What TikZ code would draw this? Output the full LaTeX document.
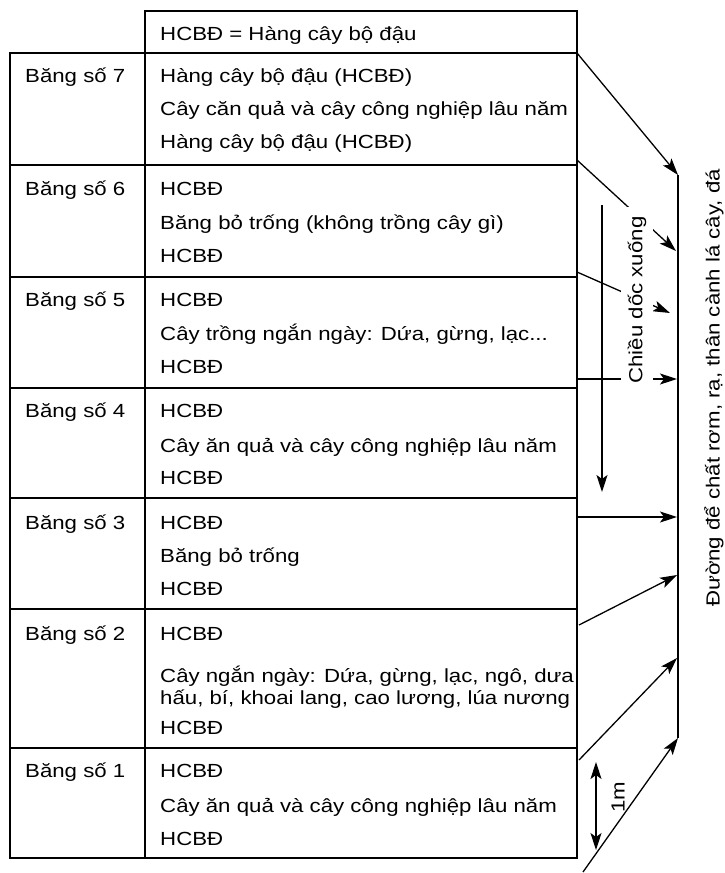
\documentclass[tikz,border=0pt]{standalone}
\usepackage{fontspec}
\setmainfont{Liberation Sans}[FakeStretch=1.17]
\usetikzlibrary{arrows.meta, positioning}

\begin{document}
\begin{tikzpicture}[x=1pt, y=-1pt,
        grid/.style={line width=1.3pt},
        cell/.style={anchor=base west, inner sep=0pt, font=\fontsize{19}{22}\selectfont},
        flow/.style={line width=1.3pt, -{Stealth[length=17pt, width=11pt, inset=4pt]}},
        sidelbl/.style={rotate=90, font=\fontsize{19}{22}\selectfont}]
        \useasboundingbox (0,0) rectangle (724,873);

        % Table frame
        \draw[grid] (145,11) rectangle (577,53);
        \draw[grid] (10,53) rectangle (577,858);
        \draw[grid] (145,53) -- (145,858);
        \foreach \y in {165,277,388,498,609,748}
            \draw[grid] (10,\y) -- (577,\y);

        % Key
        \node[cell] (key) at (160,40) {HCBĐ = Hàng cây bộ đậu};

        % Band labels
        \foreach \n/\y in {7/82,6/195,5/306,4/417,3/529,2/640,1/777}
            \node[cell] (band\n) at (25,\y) {Băng số \n};

        % Hedge rows of each band
        \node[cell] (top7) at (160,82) {Hàng cây bộ đậu (HCBĐ)};
        \node[cell] (bot7) at (160,148) {Hàng cây bộ đậu (HCBĐ)};
        \foreach \n/\ya/\yb in {6/195/262,5/306/373,4/417/484,3/529/595,2/640/734,1/777/845} {
            \node[cell] (top\n) at (160,\ya) {HCBĐ};
            \node[cell] (bot\n) at (160,\yb) {HCBĐ};
        }

        % Crops of each band
        \node[cell] (mid7) at (160,115) {Cây căn quả và cây công nghiệp lâu năm};
        \node[cell] (mid6) at (160,229) {Băng bỏ trống (không trồng cây gì)};
        \node[cell] (mid5) at (160,340) {Cây trồng ngắn ngày: Dứa, gừng, lạc...};
        \node[cell] (mid4) at (160,452) {Cây ăn quả và cây công nghiệp lâu năm};
        \node[cell] (mid3) at (160,562) {Băng bỏ trống};
        \node[cell] (mid2) at (160,682) {Cây ngắn ngày: Dứa, gừng, lạc, ngô, dưa};
        \node[cell] (mid2b) at (160,704) {hấu, bí, khoai lang, cao lương, lúa nương};
        \node[cell] (mid1) at (160,812) {Cây ăn quả và cây công nghiệp lâu năm};

        % Edge and road points
        \foreach \i/\ex/\ey/\rx/\ry in {1/577/53/678/175, 2/577/160/676/251, 3/577/272/670/313,
                4/577/379/677/379, 5/577/517/677/517, 6/579/625/677/575,
                7/579/760/677/658, 8/583/872/678/738} {
            \coordinate (e\i) at (\ex,\ey);
            \coordinate (r\i) at (\rx,\ry);
        }
        \foreach \i in {1,...,8}
            \draw[flow] (e\i) -- (r\i);
        \draw[line width=1.4pt] (r1) -- (r8);

        % Slope direction
        \coordinate (d1) at (602,205);
        \coordinate (d2) at (602,492);
        \draw[flow] (d1) -- (d2);
        \node[sidelbl, fill=white, inner xsep=10pt, inner ysep=7pt] (slope) at (637,300) {Chiều dốc xuống};

        % Band width
        \coordinate (m1) at (596,762);
        \coordinate (m2) at (596,850);
        \draw[line width=1.1pt, {Stealth[length=17pt, width=11pt, inset=4pt]}-{Stealth[length=17pt, width=11pt, inset=4pt]}] (m1) -- (m2);
        \node[sidelbl] (meter) at (618,797) {1m};

        % Road label
        \node[sidelbl] (road) at (714,388) {Đường để chất rơm, rạ, thân cành lá cây, đá};
\end{tikzpicture}
\end{document}
